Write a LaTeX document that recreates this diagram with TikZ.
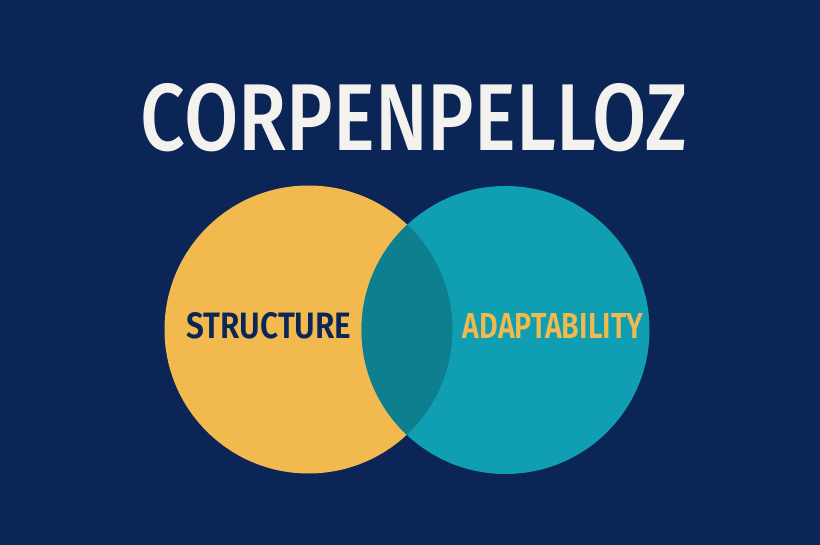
\documentclass[tikz,border=0pt]{standalone}
\usepackage{fontspec}
\setmainfont{Fira Sans}
\newfontfamily\titlefont{Fira Sans Medium}
\newfontfamily\labelfont{Fira Sans SemiBold}
\usepackage{graphicx}
\definecolor{bgnavy}{HTML}{0C2557}
\definecolor{sun}{HTML}{F2B94F}
\definecolor{teal}{HTML}{109FB2}
\definecolor{overlapc}{HTML}{0D7F8F}
\definecolor{titlewhite}{HTML}{F3F2EE}
\tikzset{
  label text/.style={inner sep=0pt, outer sep=0pt, anchor=center, font=\labelfont},
  venn/.style={circle, inner sep=0pt, outer sep=0pt, minimum size=288pt, draw=none}
}
\begin{document}
\begin{tikzpicture}[x=1pt,y=-1pt]
  \fill[bgnavy] (0,0) rectangle (820,545);
  \useasboundingbox (0,0) rectangle (820,545);
  \node[venn, fill=sun] (left) at (308.5,329.5) {};
  \node[venn, fill=teal] (right) at (505.5,330) {};
  \begin{scope}
    \clip (308.5,329.5) circle[radius=144pt];
    \fill[overlapc] (505.5,330) circle[radius=144pt];
  \end{scope}
  \node[inner sep=0pt, outer sep=0pt, anchor=center, text=titlewhite] (title) at (414,117.5)
    {\resizebox{546pt}{67pt}{\titlefont CORPENPELLOZ}};
  \node[label text, text=bgnavy] (structure) at (269,326)
    {\resizebox{165pt}{26pt}{STRUCTURE}};
  \node[label text, text=sun] (adapt) at (553,326.5)
    {\resizebox{180pt}{25pt}{ADAPTABILITY}};
\end{tikzpicture}
\end{document}
